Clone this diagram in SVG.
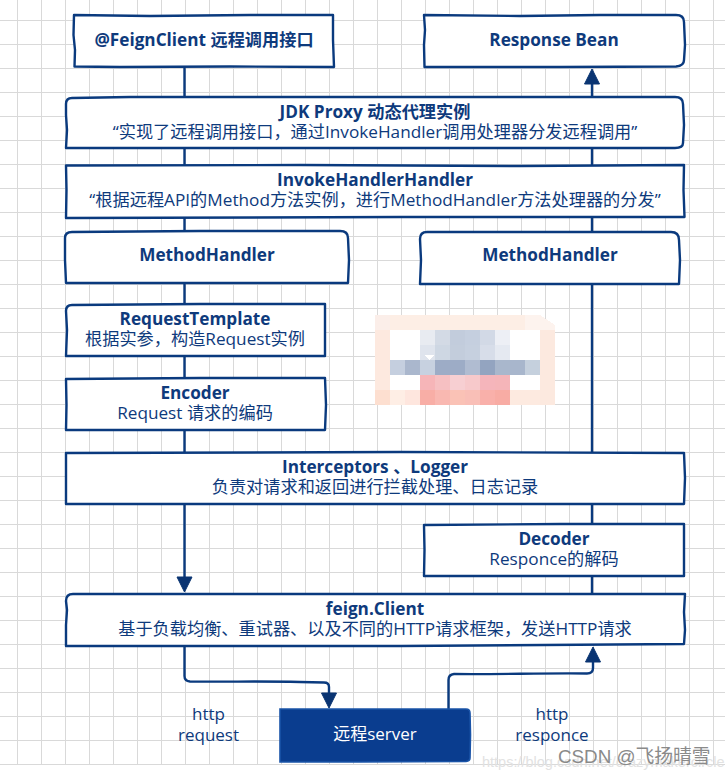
<svg xmlns="http://www.w3.org/2000/svg" width="725" height="774" viewBox="0 0 725 774">
<style>
.grid{stroke:#d9d9d9;stroke-width:1;fill:none}
.box{fill:#fff;stroke:#0a3a7e;stroke-width:2.4;stroke-linejoin:round}
.con{fill:none;stroke:#0a3a7e;stroke-width:2.4;stroke-linejoin:round}
.head{fill:#0a3472;stroke:#0a3472}
text{font-family:"Open Sans","Noto Sans CJK SC",sans-serif;text-anchor:middle;fill:#0e3a7c}
.t{font-weight:700;font-size:17.2px}
.s{font-size:17.2px}
.l{font-size:17px}
</style>
<rect width="725" height="774" fill="#fff"/>
<path class="grid" d="M17.5 0V764M41.5 0V764M65.5 0V764M89.5 0V764M113.5 0V764M137.5 0V764M161.5 0V764M185.5 0V764M209.5 0V764M233.5 0V764M257.5 0V764M281.5 0V764M305.5 0V764M329.5 0V764M353.5 0V764M377.5 0V764M401.5 0V764M425.5 0V764M449.5 0V764M473.5 0V764M497.5 0V764M521.5 0V764M545.5 0V764M569.5 0V764M593.5 0V764M617.5 0V764M641.5 0V764M665.5 0V764M689.5 0V764M713.5 0V764M0 20.5H725M0 44.5H725M0 68.5H725M0 92.5H725M0 116.5H725M0 140.5H725M0 164.5H725M0 188.5H725M0 212.5H725M0 236.5H725M0 260.5H725M0 284.5H725M0 308.5H725M0 332.5H725M0 356.5H725M0 380.5H725M0 404.5H725M0 428.5H725M0 452.5H725M0 476.5H725M0 500.5H725M0 524.5H725M0 548.5H725M0 572.5H725M0 596.5H725M0 620.5H725M0 644.5H725M0 668.5H725M0 692.5H725M0 716.5H725M0 740.5H725M0 764.5H725"/>
<g id="blur" shape-rendering="crispEdges">
<path d="M375 315H540L555 325V390L545 405H375Z" fill="#fdf3ee"/>
<rect x="375" y="315" width="15" height="15" fill="#fbeee9"/><rect x="390" y="315" width="135" height="15" fill="#fdeee5"/>
<rect x="375" y="330" width="15" height="60" fill="#fde9df"/>
<rect x="540" y="330" width="15" height="75" fill="#fce9df"/>
<rect x="390" y="330" width="150" height="75" fill="#fff"/>
<rect x="420" y="330" width="15" height="15" fill="#e8ebf1"/><rect x="435" y="330" width="15" height="15" fill="#d3dae5"/><rect x="450" y="330" width="15" height="15" fill="#c2ccdc"/><rect x="465" y="330" width="15" height="15" fill="#c5cfdf"/><rect x="480" y="330" width="15" height="15" fill="#d2d9e6"/><rect x="495" y="330" width="15" height="15" fill="#edeff5"/>
<rect x="420" y="345" width="15" height="15" fill="#dfe4ed"/><rect x="435" y="345" width="15" height="15" fill="#ced7e3"/><rect x="450" y="345" width="15" height="15" fill="#c3cddc"/><rect x="465" y="345" width="15" height="15" fill="#c6d0df"/><rect x="480" y="345" width="15" height="15" fill="#d7dde9"/><rect x="495" y="345" width="15" height="15" fill="#e5e9f1"/>
<rect x="390" y="360" width="15" height="15" fill="#c5cfdf"/><rect x="405" y="360" width="15" height="15" fill="#aab7cd"/><rect x="420" y="360" width="15" height="15" fill="#c7d1e0"/><rect x="435" y="360" width="15" height="15" fill="#9dacc6"/><rect x="450" y="360" width="15" height="15" fill="#9dacc6"/><rect x="465" y="360" width="15" height="15" fill="#b0bcd1"/><rect x="480" y="360" width="15" height="15" fill="#93a4c0"/><rect x="495" y="360" width="15" height="15" fill="#a9b7cc"/><rect x="510" y="360" width="15" height="15" fill="#a8b6cc"/><rect x="525" y="360" width="15" height="15" fill="#c5d0dd"/>
<rect x="420" y="375" width="15" height="15" fill="#f6b5b8"/><rect x="435" y="375" width="15" height="15" fill="#f6c0c2"/><rect x="450" y="375" width="15" height="15" fill="#f7cfd2"/><rect x="465" y="375" width="15" height="15" fill="#f7c9cb"/><rect x="480" y="375" width="15" height="15" fill="#f5b5bb"/><rect x="495" y="375" width="15" height="15" fill="#f5b5b9"/>
<rect x="375" y="390" width="15" height="15" fill="#fddfd0"/><rect x="390" y="390" width="15" height="15" fill="#feeee5"/><rect x="405" y="390" width="15" height="15" fill="#fee6de"/><rect x="420" y="390" width="15" height="15" fill="#f8aea6"/><rect x="435" y="390" width="15" height="15" fill="#f9b8b1"/><rect x="450" y="390" width="15" height="15" fill="#fac2b6"/><rect x="465" y="390" width="15" height="15" fill="#f9bfb7"/><rect x="480" y="390" width="15" height="15" fill="#f9b0aa"/><rect x="495" y="390" width="15" height="15" fill="#f8aca4"/><rect x="510" y="390" width="30" height="15" fill="#fdeae0"/>
<path d="M425 355H434L429.500 360Z" fill="#fff"/>
</g>
<g id="connectors">
<path class="con" d="M184.500 67V97M184.500 148V165M184.500 217V231M184.500 283V304M184.500 356V378M184.500 430V452M184.500 504V578"/>
<path class="head" d="M177 577H192L184.500 592Z"/>
<path class="con" d="M592 97V84M592 148V165M592 217V232M592 284V452M592 504V524M592 576V594"/>
<path class="head" d="M584.500 84H599.500L592 69Z"/>
<path class="con" d="M184.500 646V676Q184.500 681 190 681.500C230 682 260 681 300 682L324 682.500Q329 682.500 329 687V694"/>
<path class="head" d="M321.500 693H336.500L329 708Z"/>
<path class="con" d="M448.500 709V680Q448.500 674.500 454 674C500 674.500 540 673 587 673.500Q593 673.500 593 668V662"/>
<path class="head" d="M585.500 662H600.500L593 647Z"/>
</g>
<g id="feign-client-api"><path class="box" d="M74 15L150 16 250 15 333 15 333 40 334 67 230 66.500 120 67 74.500 66.500 75 50 73.500 35Z"/><text class="t" x="204" y="46">@FeignClient 远程调用接口</text></g>
<g id="response-bean"><path class="box" d="M424 15L520 16 600 15 676 15Q684 15 684 22L685 45 684 60Q684 66 676 66.500L560 67 424.500 67 424 45 425 30Z"/><text class="t" x="554" y="46">Response Bean</text></g>
<g id="jdk-proxy"><path class="box" d="M66 104Q66 98 72 98L130 97 400 97 675 97Q683 97 683 104L684 125 683 143Q683 148 675 148L400 148 66 148 67 130 66 115Z"/><text class="t" x="375" y="118">JDK Proxy 动态代理实例</text><text class="s" x="375" y="138">“实现了远程调用接口，通过InvokeHandler调用处理器分发远程调用”</text></g>
<g id="invoke-handler"><path class="box" d="M66 165.500L300 165 520 166 684 165 683.500 190 684.500 217 400 217 66 218 66.500 190Z"/><text class="t" x="375" y="186">InvokeHandlerHandler</text><text class="s" x="375" y="206">“根据远程API的Method方法实例，进行MethodHandler方法处理器的分发”</text></g>
<g id="method-handler-left"><path class="box" d="M65 238Q65 232 72 232L200 231 340 231Q348 231 348 238L349 260 348 283 200 283 66 283 65 260Z"/><text class="t" x="207" y="261">MethodHandler</text></g>
<g id="method-handler-right"><path class="box" d="M420 239Q420 232 427 232L560 232 671 232Q679 232 679 240L680 260 679 284 540 284 420 284 421 260Z"/><text class="t" x="550" y="261">MethodHandler</text></g>
<g id="request-template"><path class="box" d="M66 311Q66 305 72 305L200 304 325 304 325 330 325 356 200 356 66 356 67 330Z"/><text class="t" x="195" y="325">RequestTemplate</text><text class="s" x="195" y="345">根据实参，构造Request实例</text></g>
<g id="encoder"><path class="box" d="M66 379L200 378 325 378 326 405 325 430 200 430 66 430 66.500 405Z"/><text class="t" x="195" y="399">Encoder</text><text class="s" x="195" y="419">Request 请求的编码</text></g>
<g id="interceptors"><path class="box" d="M66 453L400 452 684 453 685 478 684 504 400 504 66 504 66 478Z"/><text class="t" x="375" y="473">Interceptors 、Logger</text><text class="s" x="375" y="493">负责对请求和返回进行拦截处理、日志记录</text></g>
<g id="decoder"><path class="box" d="M424 525L560 524 684 524 684 550 684 576 560 576 424 576 424.500 550Z"/><text class="t" x="554" y="545">Decoder</text><text class="s" x="554" y="565">Responce的解码</text></g>
<g id="feign-client"><path class="box" d="M66 601Q66 594 73 594L400 594 685 594 684 612 685 630 684 644 400 646 66 646 66 625 67 610Z"/><text class="t" x="375" y="615">feign.Client</text><text class="s" x="375" y="635">基于负载均衡、重试器、以及不同的HTTP请求框架，发送HTTP请求</text></g>
<g id="remote-server"><path d="M280 709L400 709 466 709Q470 709 470 713L470.500 735 470 758Q470 761 466 761.500L360 762 280 762 280 735Z" fill="#0a3d8f" stroke="#1a54a8" stroke-width="1.600"/><text class="l" x="375" y="740" style="fill:#fff">远程server</text></g>
<g id="labels"><text class="l" x="208.500" y="720">http</text><text class="l" x="208.500" y="741">request</text><text class="l" x="552" y="720">http</text><text class="l" x="552" y="741">responce</text></g>
<g id="watermark"><text x="482" y="767" style="text-anchor:start;font-size:14.500px;fill:#e2e2e2;font-family:'Liberation Sans',sans-serif">https://blog.csdn.net/crazymakercircle</text><text x="558" y="763" style="text-anchor:start;font-size:18.800px;fill:#8a8a8a;font-family:'Liberation Sans','Noto Sans CJK SC',sans-serif">CSDN @飞扬晴雪</text></g>
</svg>
